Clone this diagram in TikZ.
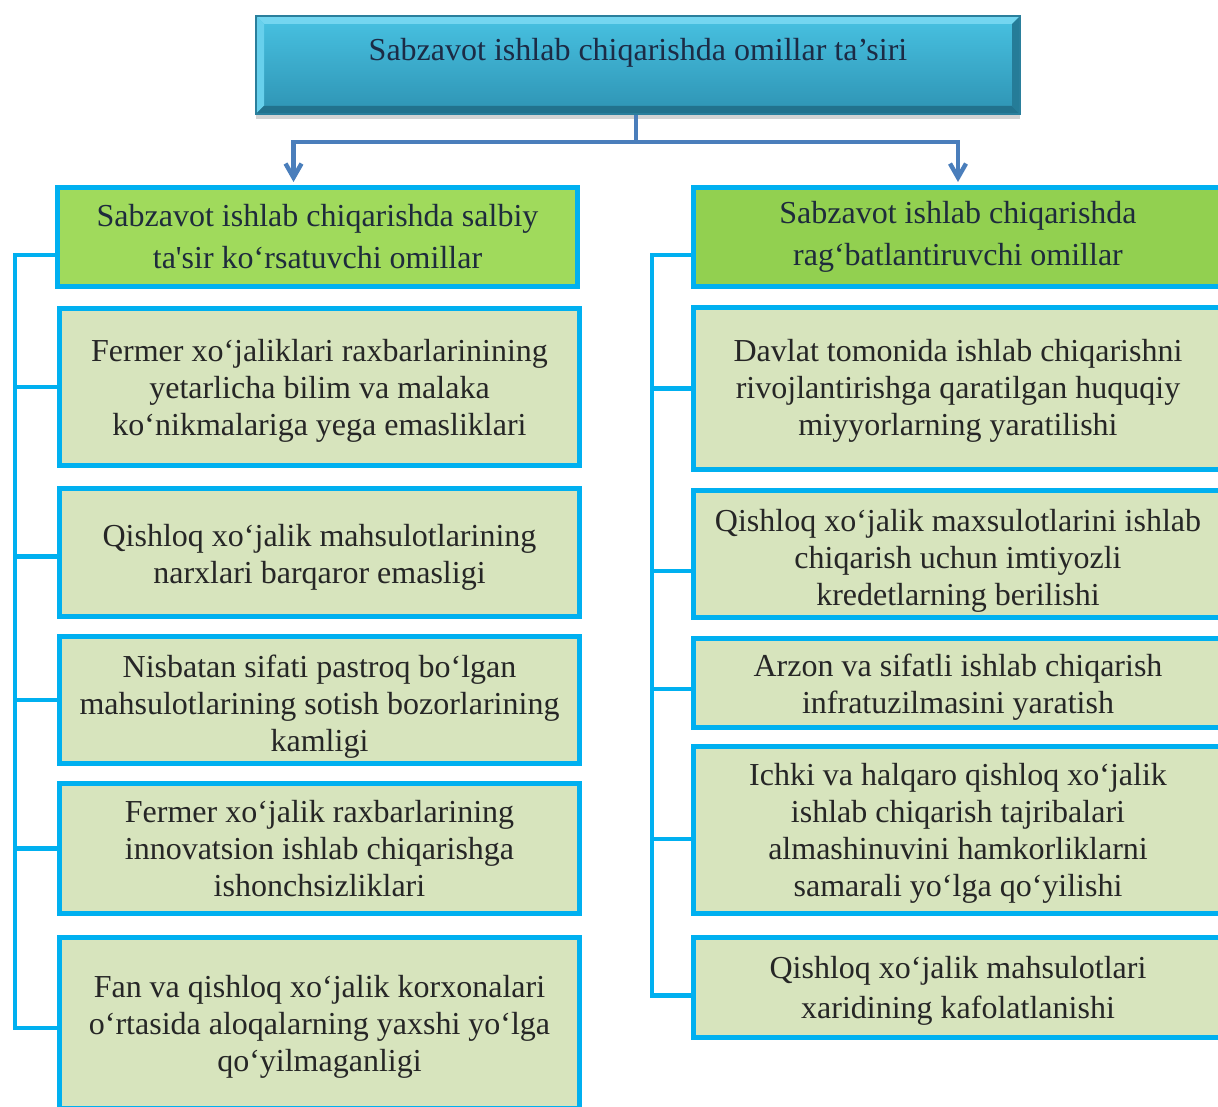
\documentclass[tikz,border=0pt]{standalone}
\usepackage{fontspec}
\setmainfont{Liberation Serif}
\usepackage{tikz}
\usetikzlibrary{arrows.meta,shadows}
\definecolor{cyanline}{HTML}{00B0F0}
\definecolor{arrowblue}{HTML}{4A7EBB}
\definecolor{itemfill}{HTML}{D7E4BD}
\definecolor{negfill}{HTML}{A0DA5C}
\definecolor{posfill}{HTML}{92D050}
\definecolor{toptop}{HTML}{48C2E2}
\definecolor{topbottom}{HTML}{2E93B3}
\definecolor{toplight}{HTML}{74D6F0}
\definecolor{topdark}{HTML}{22728D}
\definecolor{topedge}{HTML}{2A7F9C}
\definecolor{toptext}{HTML}{1C2B45}
\definecolor{headtext}{HTML}{1E2B3C}
\definecolor{itemtext}{HTML}{262626}

\begin{document}
\begin{tikzpicture}[x=0.5pt,y=-0.5pt,
	every node/.style={font=\fontsize{16}{18.5}\selectfont, align=center},
	topbox/.style={draw=topedge, line width=0.6pt, top color=toptop, bottom color=topbottom,
		minimum width=382pt, minimum height=49pt, text=toptext,
		drop shadow={shadow xshift=0pt, shadow yshift=-2.5pt, opacity=0.35},
		path picture={
			\fill[toplight] (path picture bounding box.north west) -- (path picture bounding box.north east)
				-- ([xshift=-4pt,yshift=-4pt]path picture bounding box.north east) -- ([xshift=4pt,yshift=-4pt]path picture bounding box.north west) -- cycle;
			\fill[toplight!70!toptop] (path picture bounding box.north west) -- ([xshift=4pt,yshift=-4pt]path picture bounding box.north west)
				-- ([xshift=4pt,yshift=4pt]path picture bounding box.south west) -- (path picture bounding box.south west) -- cycle;
			\fill[topdark] (path picture bounding box.south west) -- (path picture bounding box.south east)
				-- ([xshift=-4pt,yshift=4pt]path picture bounding box.south east) -- ([xshift=4pt,yshift=4pt]path picture bounding box.south west) -- cycle;
			\fill[topdark!70!topbottom] (path picture bounding box.north east) -- ([xshift=-4pt,yshift=-4pt]path picture bounding box.north east)
				-- ([xshift=-4pt,yshift=4pt]path picture bounding box.south east) -- (path picture bounding box.south east) -- cycle;
		}},
	headbox/.style={draw=cyanline, line width=2.4pt, text=headtext, inner sep=0pt, font=\fontsize{16}{21}\selectfont},
	itembox/.style={draw=cyanline, line width=2.4pt, fill=itemfill, text=itemtext, inner sep=0pt},
	bracket/.style={cyanline, line width=2.3pt},
	conn/.style={arrowblue, line width=2.2pt},
	]
	\clip (0,0) rectangle (1218,1106);
	\node[topbox, text height=11pt, text depth=15pt] (top) at (638,65) {Sabzavot ishlab chiqarishda omillar ta’siri};
	
	\node[headbox, fill=negfill, minimum width=260pt, minimum height=49.6pt] (neg) at (317.5,237) {Sabzavot ishlab chiqarishda salbiy\\ta\textquotesingle sir ko‘rsatuvchi omillar};
	\node[headbox, fill=posfill, minimum width=264.6pt, minimum height=49.6pt] (pos) at (958,237) {Sabzavot ishlab chiqarishda\\rag‘batlantiruvchi omillar};
	
	\node[itembox, minimum width=260pt, minimum height=78.6pt, text height=51.9pt] (l1) at (319.5,387) {Fermer xo‘jaliklari raxbarlarinining\\yetarlicha bilim va malaka\\ko‘nikmalariga yega emasliklari};
	\node[itembox, minimum width=260pt, minimum height=64.1pt, text height=34.4pt] (l2) at (319.5,552.5) {Qishloq xo‘jalik mahsulotlarining\\narxlari barqaror emasligi};
	\node[itembox, minimum width=260pt, minimum height=63.6pt, text height=54.9pt] (l3) at (319.5,700) {Nisbatan sifati pastroq bo‘lgan\\mahsulotlarining sotish bozorlarining\\kamligi};
	\node[itembox, minimum width=260pt, minimum height=65.1pt] (l4) at (319.5,848.5) {Fermer xo‘jalik raxbarlarining\\innovatsion ishlab chiqarishga\\ishonchsizliklari};
	\node[itembox, minimum width=260pt, minimum height=85.6pt, text height=51.9pt] (l5) at (319.5,1023) {Fan va qishloq xo‘jalik korxonalari\\o‘rtasida aloqalarning yaxshi yo‘lga\\qo‘yilmaganligi};
	
	\node[itembox, minimum width=264.6pt, minimum height=81.1pt, text height=50.9pt] (r1) at (958,388.5) {Davlat tomonida ishlab chiqarishni\\rivojlantirishga qaratilgan huquqiy\\miyyorlarning yaratilishi};
	\node[itembox, minimum width=264.6pt, minimum height=63.6pt, text height=54.9pt] (r2) at (958,554) {Qishloq xo‘jalik maxsulotlarini ishlab\\chiqarish uchun imtiyozli\\kredetlarning berilishi};
	\node[itembox, minimum width=264.6pt, minimum height=44.6pt, text height=34.4pt] (r3) at (958,683) {Arzon va sifatli ishlab chiqarish\\infratuzilmasini yaratish};
	\node[itembox, minimum width=264.6pt, minimum height=83.6pt, text height=70.4pt] (r4) at (958,830) {Ichki va halqaro qishloq xo‘jalik\\ishlab chiqarish tajribalari\\almashinuvini hamkorliklarni\\samarali yo‘lga qo‘yilishi};
	\node[itembox, minimum width=264.6pt, minimum height=50.1pt, text height=34.4pt, font=\fontsize{16}{20}\selectfont] (r5) at (958,987.5) {Qishloq xo‘jalik mahsulotlari\\xaridining kafolatlanishi};
	
	\coordinate (split) at (636,142);
	\coordinate (lbar) at (15,0);
	\coordinate (rbar) at (652,0);
	
	\draw[conn] (top.south -| split) -- (split);
	\draw[conn,-{Straight Barb[length=7pt,width=8pt]},shorten >=1.5pt] (split) -| ([xshift=-12pt]neg.north);
	\draw[conn,-{Straight Barb[length=7pt,width=8pt]},shorten >=1.5pt] (split) -| (pos.north);
	
	\draw[bracket] ([yshift=-9pt]neg.west) -| ([yshift=-2.5pt]l5.west -| lbar) -- ([yshift=-2.5pt]l5.west);
	\draw[bracket] (l1.west) -- (l1.west -| lbar);
	\draw[bracket] ([yshift=-2pt]l2.west) -- ([yshift=-2pt]l2.west -| lbar);
	\draw[bracket] (l3.west) -- (l3.west -| lbar);
	\draw[bracket] (l4.west) -- (l4.west -| lbar);
	
	\draw[bracket] ([yshift=-9pt]pos.west) -| ([yshift=-4pt]r5.west -| rbar) -- ([yshift=-4pt]r5.west);
	\draw[bracket] (r1.west) -- (r1.west -| rbar);
	\draw[bracket] ([yshift=-8.5pt]r2.west) -- ([yshift=-8.5pt]r2.west -| rbar);
	\draw[bracket] ([yshift=-3pt]r3.west) -- ([yshift=-3pt]r3.west -| rbar);
	\draw[bracket] ([yshift=-4.5pt]r4.west) -- ([yshift=-4.5pt]r4.west -| rbar);
\end{tikzpicture}
\end{document}
